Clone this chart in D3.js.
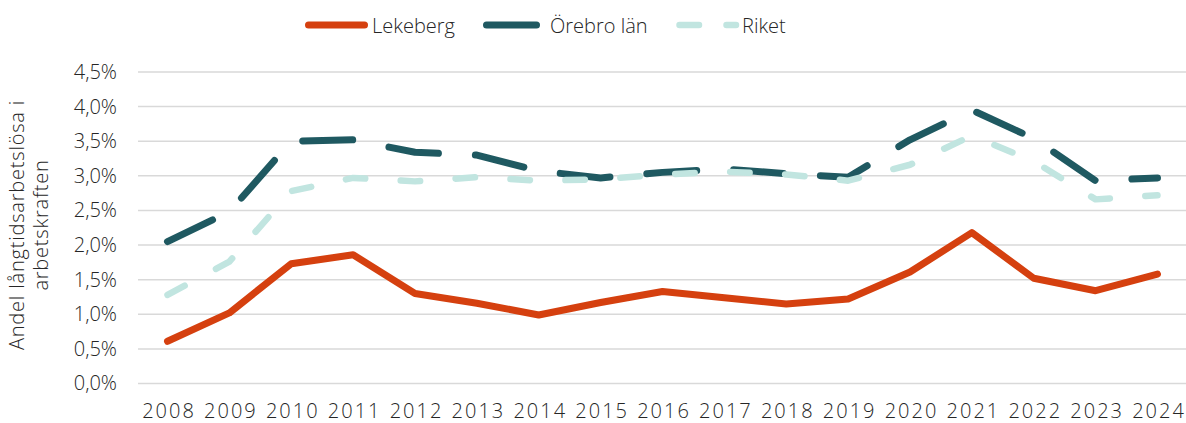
<!DOCTYPE html>
<html>
<head>
<meta charset="utf-8">
<script src="https://cdn.jsdelivr.net/npm/d3@7"></script>
<style>
  html, body { margin: 0; padding: 0; background: #fff; }
  svg { display: block; font-family: "Open Sans", "Noto Sans", sans-serif; font-weight: 300; }
</style>
</head>
<body>
<svg id="chart" width="1186" height="423"></svg>
<script>
const years = ["2008","2009","2010","2011","2012","2013","2014","2015","2016","2017","2018","2019","2020","2021","2022","2023","2024"];
const lekeberg = [0.61, 1.02, 1.73, 1.86, 1.30, 1.16, 0.99, 1.17, 1.33, 1.24, 1.15, 1.22, 1.61, 2.18, 1.52, 1.34, 1.58];
const orebro   = [2.05, 2.48, 3.50, 3.52, 3.34, 3.30, 3.07, 2.97, 3.05, 3.10, 3.03, 2.98, 3.52, 3.95, 3.54, 2.93, 2.97];
const riket    = [1.28, 1.76, 2.78, 2.97, 2.92, 2.98, 2.93, 2.95, 3.02, 3.06, 3.02, 2.93, 3.16, 3.58, 3.21, 2.66, 2.72];
const yTicks = [0, 0.5, 1, 1.5, 2, 2.5, 3, 3.5, 4, 4.5];
const seriesNames = ["Lekeberg", "Örebro län", "Riket"];
const yTitle = ["Andel långtidsarbetslösa i", "arbetskraften"];

const colors = { "Lekeberg": "#D5400F", "Örebro län": "#1F5961", "Riket": "#C1E5E0" };
const widths = { "Lekeberg": 7, "Örebro län": 7, "Riket": 6.5 };
const dashes = { "Lekeberg": null, "Örebro län": "50 37", "Riket": "19.5 35.5" };

const svg = d3.select("#chart");
const x = d3.scalePoint().domain(years).range([167.5, 1157.5]);
const y = d3.scaleLinear().domain([0, 4.5]).range([383.5, 72]);
const loc = d3.formatLocale({ decimal: ",", thousands: " ", grouping: [3], currency: ["", " kr"] });
const fmt = v => loc.format(".1f")(v) + "%";

// grid
svg.append("g").selectAll("line").data(yTicks).join("line")
  .attr("x1", 138).attr("x2", 1186)
  .attr("y1", d => y(d)).attr("y2", d => y(d))
  .attr("stroke", "#d9d9d9").attr("stroke-width", 1.5);

// y axis
const yAxis = d3.axisLeft(y).tickValues(yTicks).tickFormat(fmt).tickSize(0).tickPadding(0);
const gy = svg.append("g").attr("transform", "translate(117,0)").call(yAxis);
gy.select(".domain").remove();
gy.selectAll("text").attr("font-size", 20).attr("fill", "#262626")
  .attr("font-family", "'Open Sans', sans-serif").attr("font-weight", 300);

// x axis
const xAxis = d3.axisBottom(x).tickSize(0).tickPadding(0);
const gx = svg.append("g").attr("transform", "translate(0,404)").call(xAxis);
gx.select(".domain").remove();
gx.selectAll("text").attr("font-size", 20).attr("fill", "#262626")
  .attr("letter-spacing", 2).attr("dx", 1)
  .attr("font-family", "'Open Sans', sans-serif").attr("font-weight", 300);

// y title
const tt = svg.append("text")
  .attr("transform", "translate(24,225) rotate(-90)")
  .attr("text-anchor", "middle").attr("font-size", 20).attr("letter-spacing", 0.8)
  .attr("fill", "#262626");
yTitle.forEach((t, i) => tt.append("tspan").attr("x", 0).attr("y", i * 24).text(t));

// lines
const line = d3.line().x((d, i) => x(years[i])).y(d => y(d));
const data = { "Lekeberg": lekeberg, "Örebro län": orebro, "Riket": riket };
seriesNames.forEach(name => {
  svg.append("path").datum(data[name])
    .attr("d", line)
    .attr("fill", "none")
    .attr("stroke", colors[name])
    .attr("stroke-width", widths[name])
    .attr("stroke-linecap", "round")
    .attr("stroke-linejoin", "round")
    .attr("stroke-dasharray", dashes[name]);
});

// legend
const legendItems = [
  { name: "Lekeberg", x1: 308.5, x2: 364.5, tx: 372 },
  { name: "Örebro län", x1: 486.5, x2: 543, tx: 550 },
  { name: "Riket", x1: 679.5, x2: 736, tx: 742 }
];
const lg = svg.append("g");
legendItems.forEach(it => {
  lg.append("line").attr("x1", it.x1).attr("x2", it.x2).attr("y1", 25).attr("y2", 25)
    .attr("stroke", colors[it.name]).attr("stroke-width", widths[it.name])
    .attr("stroke-linecap", "round")
    .attr("stroke-dasharray", it.name === "Riket" ? "19.5 27.5" : dashes[it.name]);
  lg.append("text").attr("x", it.tx).attr("y", 33).attr("font-size", 20)
    .attr("fill", "#262626").text(it.name);
});
</script>
</body>
</html>
